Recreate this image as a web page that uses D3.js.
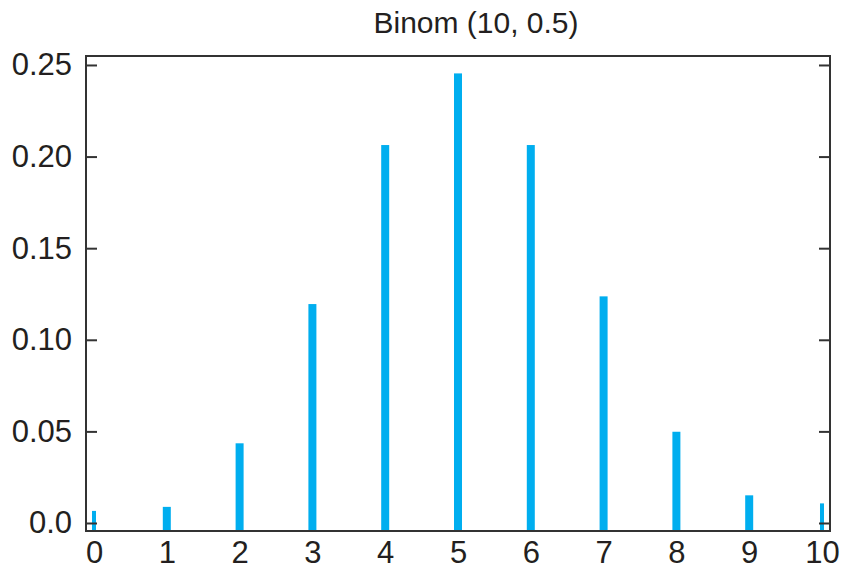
<!DOCTYPE html>
<html>
<head>
<meta charset="utf-8">
<script src="https://cdn.jsdelivr.net/npm/d3@7"></script>
<style>
  body { margin: 0; background: #fff; }
  svg text { font-family: "Liberation Sans", Arial, Helvetica, sans-serif; fill: #231f20; }
  .axis path { display: none; }
  .axis line { stroke: #333; stroke-width: 2; }
</style>
</head>
<body>
<div class="chart-container"></div>
<script>
var title = "Binom (10, 0.5)"
var outcomes = [0, 1, 2, 3, 4, 5, 6, 7, 8, 9, 10]
var probs = [0.0066, 0.0088, 0.0435, 0.1195, 0.2063, 0.2454, 0.2063, 0.1237, 0.0498, 0.0151, 0.0107]
var y_ticks = [0, 0.05, 0.10, 0.15, 0.20, 0.25]
var y_tick_labels = ["0.0", "0.05", "0.10", "0.15", "0.20", "0.25"]

var width = 843, height = 570
var plot = {left: 86, right: 830, top: 56, bottom: 531}

var x_scale = d3.scaleLinear()
    .domain([-0.11, 10.11])
    .range([plot.left, plot.right])
var y_scale = d3.scaleLinear()
    .domain([-0.00437, 0.2549])
    .range([plot.bottom, plot.top])

var svg = d3.select('.chart-container')
    .append('svg')
    .attr('width', width)
    .attr('height', height)

svg.append('text')
    .attr('x', 476)
    .attr('y', 33)
    .attr('text-anchor', 'middle')
    .style('font-size', '30px')
    .text(title)

// bars (the two end bars are drawn half width, as in the original)
svg.append('g')
    .selectAll('rect')
    .data(outcomes)
    .enter()
    .append('rect')
    .attr('x', function(d){ return x_scale(d) - ((d == 0 || d == 10) ? 2 : 4) })
    .attr('width', function(d){ return (d == 0 || d == 10) ? 4 : 8 })
    .attr('y', function(d, i){ return y_scale(probs[i]) })
    .attr('height', function(d, i){ return plot.bottom - y_scale(probs[i]) })
    .attr('fill', '#00aeef')

var left_axis = d3.axisLeft(y_scale)
    .tickValues(y_ticks)
    .tickSize(-11)
    .tickPadding(14)
    .tickFormat(function(d, i){ return y_tick_labels[i] })
svg.append('g')
    .attr('class', 'axis')
    .attr('transform', 'translate(' + plot.left + ',0)')
    .call(left_axis)
    .selectAll('text')
    .style('font-size', '31px')

var right_axis = d3.axisRight(y_scale)
    .tickValues(y_ticks)
    .tickSize(-11)
    .tickFormat('')
svg.append('g')
    .attr('class', 'axis')
    .attr('transform', 'translate(' + plot.right + ',0)')
    .call(right_axis)

var bottom_axis = d3.axisBottom(x_scale)
    .tickValues(outcomes)
    .tickSize(0)
    .tickPadding(10)
    .tickFormat(d3.format('d'))
svg.append('g')
    .attr('class', 'axis')
    .attr('transform', 'translate(0,' + plot.bottom + ')')
    .call(bottom_axis)
    .selectAll('text')
    .style('font-size', '31px')

svg.append('rect')
    .attr('x', plot.left)
    .attr('y', plot.top)
    .attr('width', plot.right - plot.left)
    .attr('height', plot.bottom - plot.top)
    .attr('fill', 'none')
    .attr('stroke', '#333')
    .attr('stroke-width', 2)
</script>
</body>
</html>
